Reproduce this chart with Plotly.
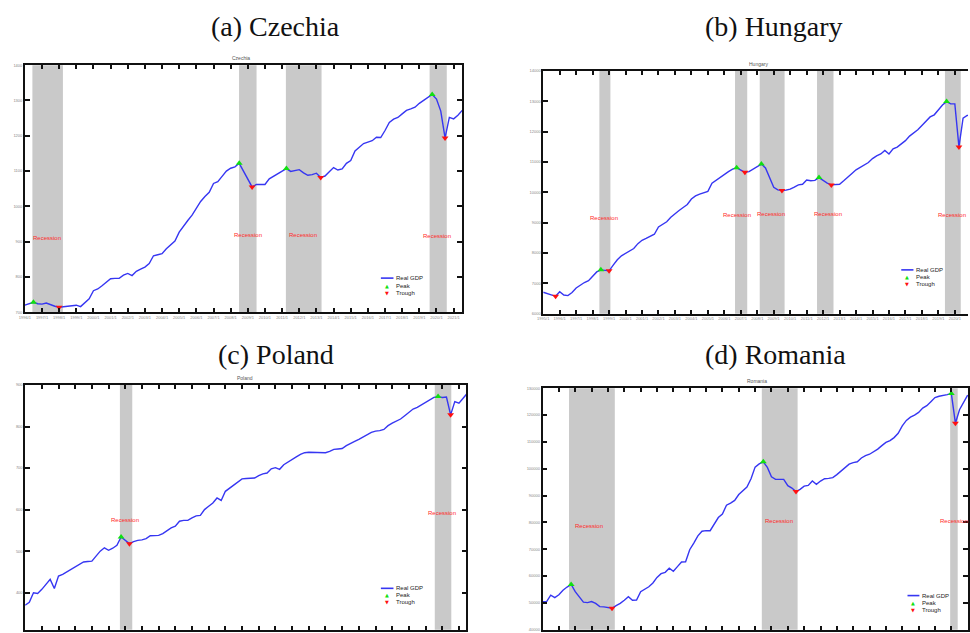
import plotly.graph_objects as go

W, H = 970, 633

# ------------------------------------------------------------------ data
legend_labels = ["Real GDP", "Peak", "Trough"]
rec_label = "Recession"

# Czechia (quarterly from 1996Q1)
cz_name = "Czechia"
cz_title = "(a) Czechia"
cz_start = 1996
cz_gdp = [720, 723, 728, 724, 723, 726, 721, 717, 714, 716,
          718, 719, 720, 716, 727, 738, 761, 766, 775, 784,
          795, 796, 796, 805, 810, 804, 816, 822, 828, 838,
          860, 863, 866, 880, 892, 902, 927, 945, 960, 975,
          995, 1014, 1028, 1040, 1065, 1070, 1085, 1100, 1108, 1112,
          1122, 1100, 1075, 1055, 1062, 1063, 1062, 1078, 1085, 1092,
          1100, 1107, 1099, 1101, 1104, 1095, 1088, 1090, 1094, 1082,
          1086, 1098, 1110, 1103, 1106, 1122, 1130, 1157, 1168, 1178,
          1182, 1186, 1196, 1195, 1215, 1238, 1247, 1252, 1262, 1272,
          1276, 1281, 1292, 1300, 1310, 1317, 1304, 1270, 1194, 1252,
          1248, 1258, 1272]
cz_peaks = [2, 50, 61, 95]
cz_troughs = [8, 53, 69, 98]
cz_rec_start = [1996.44, 2008.49, 2011.22, 2019.60]
cz_rec_end = [1998.22, 2009.51, 2013.30, 2020.60]
cz_lab_x = [1997.31, 2009.02, 2012.20, 2020.05]
cz_lab_y = [911, 920, 920, 915]
cz_yticks = [700, 800, 900, 1000, 1100, 1200, 1300, 1400]
cz_years = list(range(1996, 2022))

# Hungary (quarterly from 1995Q1)
hu_name = "Hungary"
hu_title = "(b) Hungary"
hu_start = 1995
hu_gdp = [6710, 6660, 6620, 6577, 6729, 6620, 6600, 6700, 6850, 6950,
          7030, 7090, 7250, 7380, 7447, 7440, 7414, 7600, 7780, 7910,
          7990, 8060, 8150, 8310, 8420, 8480, 8560, 8620, 8860, 8950,
          9030, 9180, 9300, 9400, 9500, 9600, 9780, 9880, 9940, 9980,
          10030, 10300, 10400, 10483, 10590, 10679, 10760, 10809, 10733, 10657,
          10680, 10760, 10850, 10929, 10800, 10470, 10167, 10080, 10058, 10070,
          10102, 10170, 10243, 10265, 10406, 10380, 10390, 10483, 10380, 10300,
          10243, 10250, 10265, 10380, 10515, 10620, 10740, 10820, 10900, 10980,
          11110, 11200, 11260, 11380, 11260, 11430, 11490, 11590, 11700, 11850,
          11950, 12060, 12200, 12350, 12480, 12550, 12720, 12870, 12985, 12909,
          12909, 11494, 12441, 12528, 12540]
hu_peaks = [14, 47, 53, 67, 98]
hu_troughs = [3, 16, 49, 58, 70, 101]
hu_rec_start = [1998.41, 2006.65, 2008.15, 2011.63, 2019.40]
hu_rec_end = [1999.08, 2007.39, 2009.66, 2012.63, 2020.36]
hu_lab_x = [1998.72, 2006.77, 2008.85, 2012.27, 2019.80]
hu_lab_y = [9155, 9264, 9297, 9297, 9242]
hu_yticks = [6000, 7000, 8000, 9000, 10000, 11000, 12000, 13000, 14000]
hu_years = list(range(1995, 2021))

# Poland (quarterly from 1995Q1)
pl_name = "Poland"
pl_title = "(c) Poland"
pl_start = 1995
pl_gdp = [370, 377, 400, 398, 408, 421, 432, 410, 440, 444,
          450, 458, 464, 468, 474, 475, 476, 488, 500, 508,
          502, 507, 514, 534, 526, 518, 523, 526, 527, 530,
          537, 538, 538, 542, 550, 556, 560, 572, 574, 574,
          580, 585, 586, 600, 608, 616, 628, 622, 644, 652,
          660, 668, 674, 675, 675, 676, 682, 686, 688, 698,
          701, 697, 708, 715, 720, 727, 733, 737, 738, 738,
          738, 737, 737, 740, 745, 746, 747, 754, 760, 764,
          769, 774, 780, 786, 789, 790, 793, 802, 808, 813,
          818, 826, 834, 842, 846, 852, 858, 866, 870, 872,
          870, 871, 828, 860, 856, 868, 880]
pl_peaks = [23, 99]
pl_troughs = [25, 102]
pl_rec_start = [2000.68, 2019.55]
pl_rec_end = [2001.42, 2020.54]
pl_lab_x = [2000.96, 2019.97]
pl_lab_y = [576, 592]
pl_yticks = [400, 500, 600, 700, 800, 900]
pl_years = list(range(1995, 2022))

# Romania (quarterly from 1995Q1)
ro_name = "Romania"
ro_title = "(d) Romania"
ro_start = 1995
ro_gdp = [50450, 50500, 52900, 51950, 53000, 54700, 55900, 56870, 54160, 52100,
          50300, 50100, 50500, 49800, 48600, 48500, 48374, 48005, 49000, 49800,
          51000, 52300, 51000, 51083, 54162, 55000, 56000, 57400, 59500, 60900,
          61400, 62900, 61800, 63500, 65246, 65300, 69800, 72300, 75000, 76700,
          76945, 76900, 79500, 81800, 83100, 86400, 87200, 88200, 90400, 91900,
          93200, 96280, 100600, 101800, 102560, 100500, 97000, 96034, 96034, 96034,
          93700, 92800, 91477, 92300, 93500, 93800, 95400, 94186, 95400, 96280,
          96400, 96700, 97800, 99000, 100500, 101700, 102300, 102600, 104000, 104900,
          105400, 106300, 107300, 108600, 109800, 110500, 111600, 113200, 116000, 118000,
          119200, 120000, 121000, 122600, 123500, 125000, 126500, 127000, 127200, 127600,
          128052, 116969, 122000, 125000, 127436]
ro_peaks = [7, 54, 100]
ro_troughs = [17, 62, 101]
ro_rec_start = [1996.62, 2008.41, 2019.93]
ro_rec_end = [1999.42, 2010.60, 2020.39]
ro_lab_x = [1997.83, 2009.44, 2020.15]
ro_lab_y = [78546, 80640, 80640]
ro_yticks = [40000, 50000, 60000, 70000, 80000, 90000, 100000, 110000, 120000, 130000]
ro_years = list(range(1995, 2022))

# ------------------------------------------------------------------ style
LINE_C = "#3636f2"
BAND_C = "#c9c9c9"
PEAK_C = "#10e010"
TROUGH_C = "#ff1010"
REC_C = "#ff2a2a"
SANS = "Liberation Sans, Arial, sans-serif"
SERIF = "Liberation Serif, Times New Roman, serif"


def px(x):
    return x / W


def py(y):
    return 1 - y / H


# pixel layout of each panel: (left, right, top, bottom), x range, y range,
# inner title pos, main title pos, legend (line x0, x1, first row y, row step)
panels = [
    dict(name=cz_name, title=cz_title, start=cz_start, gdp=cz_gdp, peaks=cz_peaks,
         troughs=cz_troughs, rs=cz_rec_start, re=cz_rec_end, lx=cz_lab_x, ly=cz_lab_y,
         yticks=cz_yticks, years=cz_years, xlabels=True,
         box=(19, 460, 62.7, 311.7), xr=[1996, 2021.5], yr=[700, 1400], ymirror="ticks",
         ititle=(237, 55), mtitle=(272, 24), leg=(378, 390.7, 277.3, 7.5)),
    dict(name=hu_name, title=hu_title, start=hu_start, gdp=hu_gdp, peaks=hu_peaks,
         troughs=hu_troughs, rs=hu_rec_start, re=hu_rec_end, lx=hu_lab_x, ly=hu_lab_y,
         yticks=hu_yticks, years=hu_years, xlabels=True,
         box=(541.7, 970, 68.3, 313.3), xr=[1995, 2020.8], yr=[6000, 14000], ymirror=False,
         ititle=(759, 61.5), mtitle=(774, 24), leg=(902.7, 915, 269, 7.2)),
    dict(name=pl_name, title=pl_title, start=pl_start, gdp=pl_gdp, peaks=pl_peaks,
         troughs=pl_troughs, rs=pl_rec_start, re=pl_rec_end, lx=pl_lab_x, ly=pl_lab_y,
         yticks=pl_yticks, years=pl_years, xlabels=False,
         box=(19.3, 464.3, 385, 631.7), xr=[1995, 2021.45], yr=[310.9, 900], ymirror="ticks",
         ititle=(241, 378), mtitle=(272, 354), leg=(378, 390.7, 590, 6.7)),
    dict(name=ro_name, title=ro_title, start=ro_start, gdp=ro_gdp, peaks=ro_peaks,
         troughs=ro_troughs, rs=ro_rec_start, re=ro_rec_end, lx=ro_lab_x, ly=ro_lab_y,
         yticks=ro_yticks, years=ro_years, xlabels=False,
         box=(541, 970, 388.3, 631.7), xr=[1995, 2021.02], yr=[40000, 130000], ymirror="ticks",
         ititle=(757, 381), mtitle=(776, 354), leg=(909, 921, 597.3, 7.4)),
]

fig = go.Figure()
layout = dict(
    width=W, height=H, margin=dict(l=0, r=0, t=0, b=0),
    paper_bgcolor="white", plot_bgcolor="white", showlegend=False,
    font=dict(family=SANS, color="#222"),
)
shapes = []
annotations = []

for i, p in enumerate(panels):
    n = i + 1
    xa = "x" if n == 1 else f"x{n}"
    ya = "y" if n == 1 else f"y{n}"
    xs = [p["start"] + q / 4 for q in range(len(p["gdp"]))]
    ys = p["gdp"]

    fig.add_trace(go.Scatter(x=xs, y=ys, mode="lines", name=legend_labels[0],
                             line=dict(color=LINE_C, width=1.4), xaxis=xa, yaxis=ya))
    fig.add_trace(go.Scatter(x=[xs[k] for k in p["peaks"]], y=[ys[k] for k in p["peaks"]],
                             mode="markers", name=legend_labels[1], xaxis=xa, yaxis=ya,
                             marker=dict(symbol="triangle-up", size=6, color=PEAK_C,
                                         line=dict(width=0))))
    fig.add_trace(go.Scatter(x=[xs[k] for k in p["troughs"]], y=[ys[k] for k in p["troughs"]],
                             mode="markers", name=legend_labels[2], xaxis=xa, yaxis=ya,
                             marker=dict(symbol="triangle-down", size=6, color=TROUGH_C,
                                         line=dict(width=0))))

    l, r, t, b = p["box"]
    axis_common = dict(showline=True, linecolor="#111", linewidth=1.5, ticks="inside",
                       tickcolor="#111", tickwidth=1.5, showgrid=False, zeroline=False,
                       tickfont=dict(size=4, color="#888", family=SANS))
    layout["xaxis" if n == 1 else f"xaxis{n}"] = dict(
        axis_common, domain=[px(l), px(r)], range=p["xr"], anchor=ya, mirror="ticks",
        tickvals=p["years"], ticktext=[f"{y}/1" for y in p["years"]], ticklen=4,
        showticklabels=p["xlabels"])
    layout["yaxis" if n == 1 else f"yaxis{n}"] = dict(
        axis_common, domain=[py(b), py(t)], range=p["yr"], anchor=xa, mirror=p["ymirror"],
        tickvals=p["yticks"], tickformat="d", ticklen=5)

    for s, e in zip(p["rs"], p["re"]):
        shapes.append(dict(type="rect", xref=xa, yref=f"{ya} domain", x0=s, x1=e, y0=0, y1=1,
                           fillcolor=BAND_C, line=dict(width=0), layer="below"))
    for lx, ly in zip(p["lx"], p["ly"]):
        annotations.append(dict(x=lx, y=ly, xref=xa, yref=ya, text=rec_label, showarrow=False,
                                xanchor="center", yanchor="middle",
                                font=dict(size=6, color=REC_C, family=SANS)))

    # small inner title and large caption
    annotations.append(dict(x=px(p["ititle"][0]), y=py(p["ititle"][1]), xref="paper", yref="paper",
                            text=p["name"], showarrow=False, xanchor="center", yanchor="middle",
                            font=dict(size=5, color="#555", family=SANS)))
    annotations.append(dict(x=px(p["mtitle"][0]), y=py(p["mtitle"][1]), xref="paper", yref="paper",
                            text=p["title"], showarrow=False, xanchor="center", yanchor="middle",
                            font=dict(size=28, color="#111", family=SERIF)))

    # compact legend
    lx0, lx1, ty, dy = p["leg"]
    shapes.append(dict(type="line", xref="paper", yref="paper", x0=px(lx0), x1=px(lx1),
                       y0=py(ty), y1=py(ty), line=dict(color=LINE_C, width=1.6)))
    mx = (lx0 + lx1) / 2
    for k, (glyph, col) in enumerate([(None, None), ("\u25B2", PEAK_C), ("\u25BC", TROUGH_C)]):
        yy = ty + k * dy
        if glyph:
            annotations.append(dict(x=px(mx), y=py(yy), xref="paper", yref="paper", text=glyph,
                                    showarrow=False, xanchor="center", yanchor="middle",
                                    font=dict(size=5, color=col, family="DejaVu Sans")))
        annotations.append(dict(x=px(lx1 + 0.5), y=py(yy), xref="paper", yref="paper",
                                text=legend_labels[k], showarrow=False, xanchor="left",
                                yanchor="middle", font=dict(size=6, color="#222", family=SANS)))

layout["shapes"] = shapes
layout["annotations"] = annotations
fig.update_layout(**layout)
fig.write_html("out.html")
